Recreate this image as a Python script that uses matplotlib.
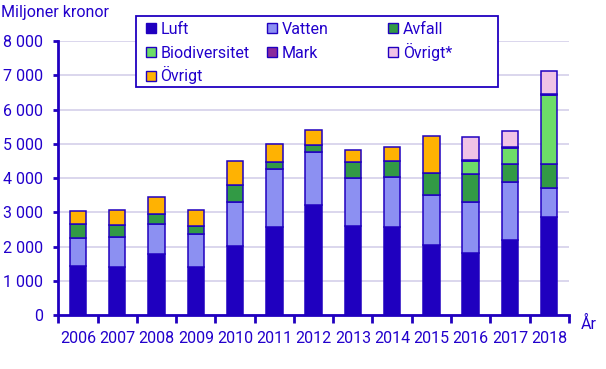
import numpy as np
import matplotlib.pyplot as plt
from matplotlib.patches import Rectangle
from matplotlib.ticker import FuncFormatter

plt.rcParams['font.family'] = ['Roboto', 'DejaVu Sans']

years = ['2006', '2007', '2008', '2009', '2010', '2011', '2012',
         '2013', '2014', '2015', '2016', '2017', '2018']

# miljoner kronor
luft = [1450, 1420, 1790, 1420, 2030, 2580, 3220, 2600, 2580, 2050, 1820, 2200, 2870]
vatten = [800, 860, 860, 950, 1270, 1680, 1530, 1390, 1450, 1450, 1480, 1680, 840]
avfall = [410, 340, 290, 230, 490, 200, 230, 470, 470, 640, 820, 520, 700]
biodiv = [0, 0, 0, 0, 0, 0, 0, 0, 0, 0, 380, 470, 2010]
mark = [0, 0, 0, 0, 0, 0, 0, 0, 0, 0, 40, 50, 40]
ovrigt_star = [0, 0, 0, 0, 0, 0, 0, 0, 0, 0, 660, 450, 660]
ovrigt = [380, 450, 520, 470, 700, 550, 410, 350, 410, 1080, 0, 0, 0]

series = [('Luft', luft, '#1f00bf'),
          ('Vatten', vatten, '#8c90f2'),
          ('Avfall', avfall, '#329a45'),
          ('Biodiversitet', biodiv, '#6ddc68'),
          ('Mark', mark, '#8a2a9c'),
          ('Övrigt*', ovrigt_star, '#f0c3e6'),
          ('Övrigt', ovrigt, '#ffb202')]

blue = '#2000c0'
txt = '#2200cc'
W, H = 606, 369

fig = plt.figure(figsize=(6.06, 3.69), dpi=100)
ax = fig.add_axes([0.0962, 0.1455, 0.8425, 0.7434])

x = np.arange(len(years))
bottom = np.zeros(len(years))
for name, vals, col in series:
    vals = np.array(vals, dtype=float)
    for i in range(len(years)):
        if vals[i] > 0:
            ax.bar(x[i], vals[i], bottom=bottom[i], width=0.42, color=col,
                   edgecolor=blue if name != 'Luft' else col,
                   linewidth=1.1, zorder=3)
    bottom += vals

ax.set_xlim(-0.5, len(years) - 0.5)
ax.set_ylim(0, 8000)
ax.set_yticks(np.arange(0, 8001, 1000))
ax.yaxis.set_major_formatter(FuncFormatter(lambda v, p: f'{int(v):,}'.replace(',', ' ')))
ax.set_xticks(x)
ax.set_xticklabels(years)
ax.set_xticks(np.arange(-0.5, len(years)), minor=True)
ax.tick_params(axis='x', which='major', length=0, pad=11, labelsize=11.5, labelcolor=txt)
ax.tick_params(axis='x', which='minor', length=6, width=2, color=blue)
ax.tick_params(axis='y', length=3.5, width=2, color=blue, labelsize=11.5, labelcolor=txt, pad=7.5)
ax.grid(axis='y', color='#d4d0ea', linewidth=1.2, zorder=0)
for s in ['top', 'right']:
    ax.spines[s].set_visible(False)
for s in ['left', 'bottom']:
    ax.spines[s].set_color(blue)
    ax.spines[s].set_linewidth(2)

fig.text(0.002, 0.965, 'Miljoner kronor', color=txt, fontsize=11.5, va='center')
fig.text(0.958, 0.122, 'År', color=txt, fontsize=11.5, va='center')


# legend box, laid out in pixels from the top-left corner
def fx(px):
    return px / W


def fy(py):
    return 1 - py / H


fig.add_artist(Rectangle((fx(135.5), fy(87.3)), fx(362), 71 / H, transform=fig.transFigure,
                         facecolor='white', edgecolor=blue, linewidth=1.3, zorder=5))
for k, (name, vals, col) in enumerate(series):
    r, c = divmod(k, 3)
    x0 = 146 + c * 121.2
    yc = 28.2 + r * 23.7
    fig.add_artist(Rectangle((fx(x0), fy(yc + 5)), fx(10), 10 / H, transform=fig.transFigure,
                             facecolor=col, edgecolor=blue, linewidth=1.0, zorder=6))
    fig.text(fx(x0 + 14.5), fy(yc + 5.8), name, color=txt, fontsize=11.5,
             va='baseline', ha='left', zorder=6)

fig.savefig('out.png', dpi=100)
